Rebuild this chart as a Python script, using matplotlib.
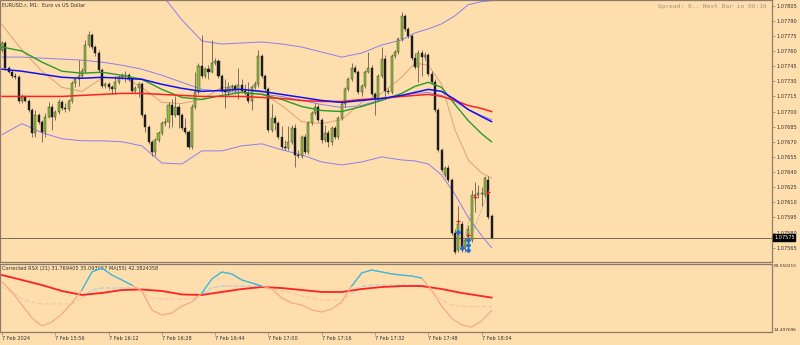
import numpy as np
import matplotlib.pyplot as plt

# EURUSD M1 bars, prices stored as points above 1.07000
BASE = 1.07

open_pts = [761, 768, 743, 739, 735, 734, 710, 714, 710, 702,
            679, 697, 690, 680, 695, 705, 695, 700, 709, 704,
            703, 710, 728, 732, 735, 740, 766, 776, 764, 758,
            741, 725, 727, 724, 722, 729, 734, 735, 736, 732,
            720, 723, 727, 697, 685, 670, 660, 672, 679, 689,
            690, 706, 697, 705, 697, 684, 680, 665, 705, 719,
            745, 735, 742, 739, 748, 750, 735, 720, 719, 724,
            725, 722, 726, 720, 718, 710, 724, 727, 755, 735,
            722, 682, 694, 689, 675, 665, 664, 670, 684, 657,
            656, 675, 660, 689, 699, 705, 692, 672, 679, 670,
            684, 675, 694, 707, 722, 732, 743, 739, 719, 725,
            739, 743, 717, 712, 735, 752, 720, 719, 755, 759,
            772, 795, 782, 775, 753, 744, 758, 754, 756, 737,
            729, 702, 662, 637, 644, 632, 580, 563, 588, 566,
            573, 573, 616, 617, 618, 617, 632, 596]
high_pts = [770, 770, 745, 741, 738, 736, 717, 716, 712, 704,
            702, 699, 692, 699, 709, 707, 702, 712, 711, 708,
            712, 730, 734, 751, 743, 771, 780, 778, 766, 761,
            743, 729, 729, 726, 735, 736, 738, 740, 738, 734,
            725, 729, 729, 699, 687, 672, 674, 681, 691, 694,
            709, 712, 715, 707, 699, 694, 682, 707, 739, 748,
            776, 744, 746, 771, 753, 752, 737, 732, 729, 727,
            727, 743, 732, 727, 729, 726, 730, 761, 757, 737,
            724, 707, 697, 691, 686, 672, 686, 687, 688, 662,
            677, 678, 691, 701, 708, 707, 694, 687, 682, 686,
            686, 696, 709, 724, 734, 748, 746, 741, 727, 741,
            759, 746, 719, 737, 764, 756, 723, 757, 761, 774,
            799, 797, 784, 777, 758, 761, 761, 759, 758, 740,
            732, 704, 664, 646, 647, 634, 583, 606, 591, 575,
            587, 622, 630, 627, 625, 636, 636, 598]
low_pts = [759, 741, 738, 733, 732, 708, 708, 709, 700, 675,
           675, 688, 670, 675, 694, 682, 692, 698, 702, 700,
           701, 708, 724, 725, 733, 738, 764, 762, 755, 739,
           723, 723, 721, 717, 717, 727, 732, 729, 730, 718,
           718, 714, 695, 680, 668, 656, 656, 670, 677, 686,
           684, 685, 695, 684, 682, 678, 663, 663, 703, 717,
           733, 733, 732, 738, 746, 733, 718, 704, 715, 720,
           719, 712, 718, 716, 708, 702, 722, 724, 733, 720,
           680, 680, 682, 673, 663, 662, 662, 668, 645, 654,
           654, 658, 658, 687, 697, 690, 669, 670, 665, 667,
           673, 673, 692, 705, 720, 730, 738, 717, 715, 723,
           738, 715, 697, 710, 733, 712, 717, 717, 753, 757,
           770, 780, 773, 751, 742, 729, 735, 751, 735, 727,
           700, 660, 640, 635, 630, 578, 559, 561, 561, 561,
           563, 571, 600, 614, 606, 615, 593, 575]
close_pts = [768, 743, 739, 735, 734, 710, 714, 710, 702, 679,
             697, 690, 680, 695, 705, 695, 700, 709, 704, 703,
             710, 728, 732, 735, 740, 766, 776, 764, 758, 741,
             725, 727, 724, 722, 729, 734, 735, 736, 732, 720,
             723, 727, 697, 685, 670, 660, 672, 679, 689, 690,
             706, 697, 705, 697, 684, 680, 665, 705, 719, 745,
             735, 742, 739, 748, 750, 735, 720, 719, 724, 725,
             722, 726, 720, 718, 710, 724, 727, 755, 735, 722,
             682, 694, 689, 675, 665, 664, 670, 684, 657, 656,
             675, 660, 689, 699, 705, 692, 672, 679, 670, 684,
             675, 694, 707, 722, 732, 743, 739, 719, 725, 739,
             743, 717, 712, 735, 752, 720, 719, 755, 759, 772,
             795, 782, 775, 753, 744, 758, 754, 756, 737, 729,
             702, 662, 642, 644, 632, 580, 561, 588, 565, 573,
             583, 617, 617, 619, 619, 634, 595, 575]

# chart indicators read at these bars (points above 1.07000)
line_bars = [0, 6, 12, 18, 24, 30, 36, 42, 48, 54, 60, 66, 72, 78, 84,
             90, 96, 102, 108, 114, 120, 124, 128, 132, 136, 140, 144, 147]
ma_red = [715, 715, 715, 715, 716, 717, 718, 718, 717, 716, 715, 715, 715, 714,
          713, 711, 710, 710, 712, 713, 715, 716, 717, 715, 711, 706, 703, 700]
ma_blue = [742, 740, 737, 734, 733, 734, 733, 732, 727, 723, 720, 721, 722, 720,
           717, 714, 711, 709, 711, 713, 716, 719, 722, 720, 712, 702, 695, 690]
ma_green = [764, 760, 749, 740, 738, 739, 736, 732, 722, 714, 712, 716, 719, 717,
            712, 705, 701, 700, 705, 711, 718, 725, 729, 724, 707, 691, 678, 670]
ma_fast = [786, 761, 740, 724, 720, 733, 735, 724, 709, 708, 712, 724, 722, 719,
           706, 690, 688, 692, 709, 718, 734, 748, 746, 727, 682, 652, 639, 634]
bb_mid = [754, 754, 753, 752, 751, 749, 746, 742, 736, 729, 722, 720, 719, 717,
          715, 711, 707, 704, 706, 712, 716, 718, 719, 716, 710, 702, 696, 692]
bb_up = [831, 820, 827, 831, 831, 827, 822, 818, 816, 791, 770, 767, 768, 769,
         767, 764, 759, 754, 758, 766, 771, 778, 782, 787, 795, 806, 809, 810]
bb_low = [677, 688, 679, 673, 671, 671, 670, 666, 649, 648, 661, 661, 666, 668,
          662, 657, 650, 647, 650, 655, 652, 651, 648, 637, 618, 595, 577, 565]

# trade arrows near the end
sell_bars = [137, 140, 142, 146]
sell_pts = [591, 578, 615, 620]
buy_bars = [137, 138, 140, 140, 140]
buy_pts = [581, 565, 573, 568, 563]
link_from = [(138, 565), (140, 568)]
link_to = [(142, 615), (146, 620)]

# Corrected RSX panel
rsx_bars = list(range(0, 145, 3)) + [147]
rsx = [55.0, 46.9, 36.4, 25.8, 19.4, 22.6, 29.1, 38.0, 48.5, 63.1,
       66.3, 60.6, 56.6, 52.5, 47.7, 32.3, 28.3, 29.9, 35.5, 38.8,
       46.1, 57.4, 63.1, 61.5, 56.6, 54.2, 51.7, 49.3, 42.0, 38.0,
       36.4, 32.3, 30.7, 33.1, 38.8, 51.7, 62.3, 64.7, 63.1, 61.5,
       60.6, 59.8, 58.2, 48.5, 35.5, 25.8, 20.2, 18.5, 23.4, 31.769405]
rsx_sig = [50.9, 46.9, 41.2, 38.8, 37.2, 37.2, 37.2, 37.2, 42.0, 48.5,
           50.1, 50.1, 50.1, 50.1, 46.9, 42.0, 41.2, 41.2, 41.2, 41.2,
           45.3, 50.1, 51.7, 51.7, 51.7, 51.7, 51.7, 49.3, 47.7, 46.1,
           43.6, 42.0, 40.4, 40.4, 40.4, 45.3, 51.7, 52.5, 52.5, 52.5,
           52.5, 52.5, 52.5, 46.9, 40.4, 36.4, 35.093067, 35.093067, 35.093067, 35.093067]
ma_bars = list(range(0, 145, 6)) + [147]
rsx_ma = [60.6, 56.6, 52.5, 47.7, 44.5, 46.1, 48.5, 48.9, 47.7, 44.9,
          44.5, 46.9, 49.3, 50.9, 50.1, 48.5, 46.9, 46.9, 49.3, 50.9,
          51.7, 51.7, 49.3, 46.1, 43.6, 42.3824358]

price_ticks = [1.07805, 1.07790, 1.07775, 1.07760, 1.07745, 1.07730, 1.07715, 1.07700,
               1.07685, 1.07670, 1.07655, 1.07640, 1.07625, 1.07610, 1.07595, 1.07580, 1.07565]
time_bars = [0, 16, 32, 48, 64, 80, 96, 112, 128, 144]
time_labels = ["7 Feb 2024", "7 Feb 15:56", "7 Feb 16:12", "7 Feb 16:28", "7 Feb 16:44",
               "7 Feb 17:00", "7 Feb 17:16", "7 Feb 17:32", "7 Feb 17:48", "7 Feb 18:04"]
last_price = 1.07575

BG = "#ffdead"
FRAME = "#8c7b6b"
TXT = "#303030"
FS = 3.6


def px(pts):
    return BASE + np.asarray(pts, dtype=float) * 1e-5


fig = plt.figure(figsize=(8, 3.45), dpi=100, facecolor=BG)
ax = fig.add_axes([0, 83 / 345, 772 / 800, 262 / 345], facecolor=BG)
ax2 = fig.add_axes([0, 13 / 345, 772 / 800, 68 / 345], facecolor=BG)

# candles
bars = np.arange(len(close_pts))
o, h, l, c = px(open_pts), px(high_pts), px(low_pts), px(close_pts)
up = c >= o
ax.vlines(bars, l, h, color="#4a443c", lw=0.5, zorder=3)
ax.bar(bars[up], np.maximum(c - o, 2e-6)[up], bottom=o[up], width=0.62,
       color="#8fc13a", edgecolor="#2a2a2a", lw=0.3, zorder=4)
ax.bar(bars[~up], np.maximum(o - c, 2e-6)[~up], bottom=c[~up], width=0.62,
       color="#1c1c1c", edgecolor="#1c1c1c", lw=0.3, zorder=4)

# bands and moving averages
for vals in (bb_up, bb_mid, bb_low):
    ax.plot(line_bars, px(vals), color="#8a7ff0", lw=0.7, zorder=2)
ax.plot(line_bars, px(ma_fast), color="#e0a078", lw=0.7, zorder=2)
ax.plot(line_bars, px(ma_green), color="#2a9a2a", lw=1.0, zorder=5)
ax.plot(line_bars, px(ma_red), color="#ff2020", lw=1.1, zorder=5)
ax.plot(line_bars, px(ma_blue), color="#1010f0", lw=1.1, zorder=5)

ax.axhline(last_price, color="#7a6a5a", lw=0.7, zorder=1)

# trades
for (b0, p0), (b1, p1) in zip(link_from, link_to):
    ax.plot([b0, b1], px([p0, p1]), color="#8a8a8a", ls=":", lw=0.6, zorder=6)
ax.plot(sell_bars, px(sell_pts), ls="none", marker="+", ms=3, mew=0.8, color="#e02020", zorder=7)
ax.plot(buy_bars, px(buy_pts), ls="none", marker="D", ms=2, color="#1f6fd8", zorder=7)

ax.set_xlim(-0.6, 231.2)
ax.set_ylim(1.0755075, 1.0781065)
ax.yaxis.tick_right()
ax.set_yticks(price_ticks)
ax.set_yticklabels([f"{p:.5f}" for p in price_ticks])
ax.tick_params(axis="y", length=2, width=0.5, pad=1, labelsize=FS, colors=FRAME, labelcolor=TXT)
ax.set_xticks([])
ax.annotate(f"{last_price:.5f}", xy=(1.0, last_price), xycoords=("axes fraction", "data"),
            xytext=(1.5, 0), textcoords="offset points", ha="left", va="center",
            fontsize=FS, color="white",
            bbox=dict(boxstyle="square,pad=0.15", fc="black", ec="black"))
ax.text(0.003, 0.981, "EURUSD.r, M1:  Euro vs US Dollar", transform=ax.transAxes,
        fontsize=FS, color=TXT, ha="left", va="center")
ax.text(0.9935, 0.974, "Spread: 0.. Next Bar in 00:10", transform=ax.transAxes,
        fontsize=4.4, family="DejaVu Sans Mono", color="#a09282", ha="right", va="center")

# RSX window
rsx_a = np.array(rsx)
sig_a = np.array(rsx_sig)
ma_on = np.interp(rsx_bars, ma_bars, rsx_ma)
above = rsx_a >= ma_on
ax2.plot(rsx_bars, sig_a, color="#f6c4a4", lw=0.8, ls=(0, (4, 2)), zorder=2)
ax2.plot(rsx_bars, np.ma.masked_where(~above, sig_a), color="#a6d8e4", lw=0.8,
         ls=(0, (4, 2)), zorder=2)
ax2.plot(ma_bars, rsx_ma, color="#ff2020", lw=1.3, zorder=3)
ax2.plot(rsx_bars, rsx_a, color="#f4a88c", lw=0.9, zorder=4)
ax2.plot(rsx_bars, np.ma.masked_where(~above, rsx_a), color="#28c0ea", lw=0.9, zorder=5)

ax2.set_xlim(-0.6, 231.2)
ax2.set_ylim(14.497696, 69.550215)
ax2.yaxis.tick_right()
ax2.set_yticks([14.497696, 69.550215])
ax2.set_yticklabels(["14.497696", "69.550215"])
ax2.tick_params(axis="y", length=0, pad=1, labelsize=3.1, labelcolor=TXT)
ax2.get_yticklabels()[1].set_va("top")
ax2.get_yticklabels()[0].set_va("bottom")
ax2.set_xticks(time_bars)
ax2.set_xticklabels(time_labels, ha="left")
ax2.tick_params(axis="x", length=2, width=0.5, pad=1, labelsize=FS, colors=FRAME, labelcolor=TXT)
ax2.text(0.003, 0.94, "Corrected RSX (21) 31.769405 35.093067 MA(55) 42.3824358",
         transform=ax2.transAxes, fontsize=FS, color=TXT, ha="left", va="center")

for a in (ax, ax2):
    for s in a.spines.values():
        s.set_color(FRAME)
        s.set_linewidth(0.9)

fig.savefig("out.png", dpi=100, facecolor=BG)
